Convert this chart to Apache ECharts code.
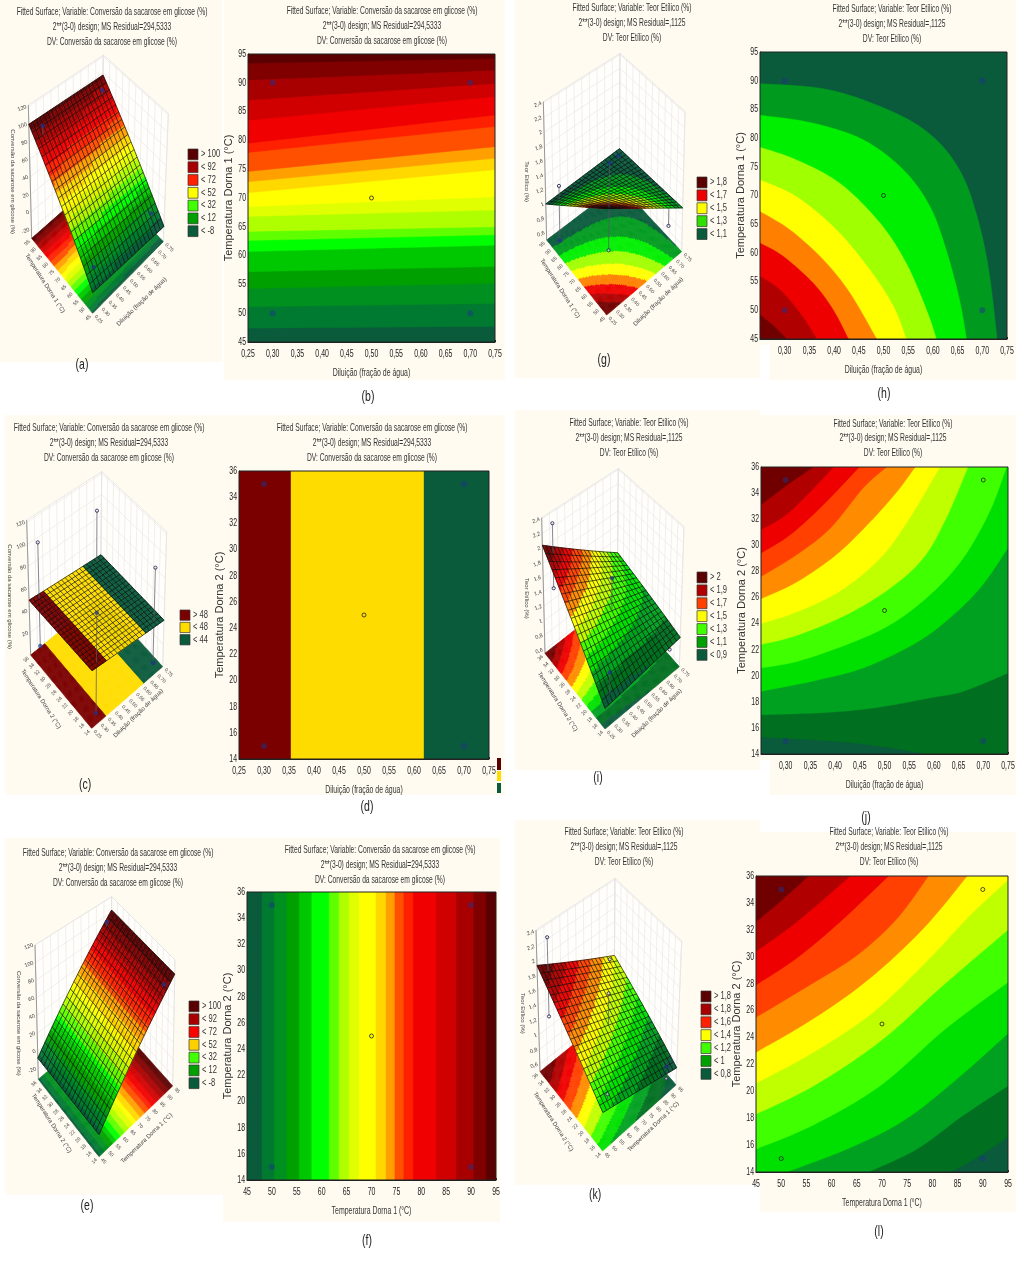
<!DOCTYPE html>
<html><head><meta charset="utf-8">
<style>html,body{margin:0;padding:0;background:#fff}#c{width:1024px;height:1274px}</style>
<script src="https://cdn.jsdelivr.net/npm/echarts@6/dist/echarts.min.js"></script>
</head><body><div id="c"></div>
<script>
/* ---------- text ---------- */
const titleConv = ['Fitted Surface; Variable: Conversão da sacarose em glicose (%)','2**(3-0) design; MS Residual=294,5333','DV: Conversão da sacarose em glicose (%)'];
const titleTeor = ['Fitted Surface; Variable: Teor Etílico (%)','2**(3-0) design; MS Residual=,1125','DV: Teor Etílico (%)'];
const nameDil = 'Diluição (fração de água)';
const nameT1 = 'Temperatura Dorna 1 (°C)';
const nameT2 = 'Temperatura Dorna 2 (°C)';
const nameConv = 'Conversão da sacarose em glicose (%)';
const nameTeor = 'Teor Etílico (%)';

/* ---------- colours / levels ---------- */
const convColors = ['#0a5a3c','#007a30','#009020','#00a000','#00c800','#00ff00','#60ff00','#b0ff00','#e0ff00','#ffff00','#ffd800','#ffa000','#ff5000','#ff2000','#f00000','#d00000','#a80000','#800000','#5a0000'];
const convLevels = [-6,0,6,12,18,24,30,36,42,48,54,60,66,72,78,84,90,96];
const flatColors = ['#0a5a3c','#ffdc00','#7a0000'];
const flatLevels = [44,48];
const dColors = ['#7a0000','#ffdc00','#0a5a3c'];
const teorHColors = ['#0a5a3c','#009a1f','#00ee00','#a0ff00','#ffff00','#ff8000','#ee0000','#b00000','#700000'];
const teorHLevels = [1.1,1.2,1.3,1.4,1.5,1.6,1.7,1.8];
const teorJColors = ['#0a5a3c','#006f20','#00a020','#00e000','#40ff00','#c0ff00','#ffff00','#ff8c00','#ff4000','#ee0000','#b00000','#700000'];
const teorJLevels = [.9,1,1.1,1.2,1.3,1.4,1.5,1.6,1.7,1.8,1.9];
const teorLLevels = [.8,.9,1,1.1,1.2,1.3,1.4,1.5,1.6,1.7,1.8];

/* ---------- contour boundaries, data units ---------- */
const bLines = [[[.25,47.4],[.75,47.7]],[[.25,51.1],[.75,51.7]],[[.25,54.3],[.75,55.2]],[[.25,57.2],[.75,58.1]],[[.25,60.7],[.75,61.8]],[[.25,62.6],[.75,63.6]],[[.25,64.2],[.75,65]],[[.25,66.8],[.75,67.9]],[[.25,68.5],[.75,70.2]],[[.25,70.9],[.75,74.9]],[[.25,72.8],[.75,76.9]],[[.25,74.6],[.75,78.9]],[[.25,77.9],[.75,82.4]],[[.25,79.5],[.75,84.4]],[[.25,83.5],[.75,87.6]],[[.25,87],[.75,89.9]],[[.25,90.5],[.75,92.2]],[[.25,93.4],[.75,94.2]]];
const dLines = [[[.354,14],[.354,36]],[[.62,14],[.62,36]]];
const fEdges = [48,50.5,53,55.5,58,61.5,63.5,65.5,67.5,70.9,72.9,74.7,76.5,78.4,83,87,90.5,93];
const hLines = [
 [[.25,89.5],[.3915,88.4],[.526,84.3],[.607,79.7],[.661,73.3],[.695,64.6],[.715,55.9],[.73,45]],
 [[.25,84],[.358,82.6],[.459,79.7],[.54,74.5],[.594,68.1],[.627,60.5],[.654,51.8],[.668,45]],
 [[.25,78.4],[.324,76.2],[.412,72.1],[.493,65.2],[.546,58.2],[.587,50.1],[.607,45]],
 [[.25,72.7],[.324,69.8],[.405,64],[.472,57.1],[.52,50.7],[.546,45]],
 [[.25,67.2],[.311,64],[.378,58.8],[.432,53],[.486,45]],
 [[.25,61.7],[.297,59.4],[.358,54.7],[.398,50.1],[.429,45]],
 [[.25,55.9],[.29,53.6],[.331,49.5],[.365,45]],
 [[.25,49.2],[.277,47.3],[.304,45]]];
const jLines = [
 [[.25,15.3],[.39,15],[.491,14.6],[.585,14]],
 [[.25,17],[.39,17.2],[.491,17.6],[.592,18.3],[.659,18.8],[.75,20.2]],
 [[.25,18.8],[.356,19.6],[.457,20.6],[.558,22.4],[.625,24.2],[.693,26.7],[.75,29.8]],
 [[.25,20.6],[.323,21.1],[.424,22.4],[.511,23.9],[.592,26.2],[.659,29],[.713,32.6],[.747,36]],
 [[.25,22.4],[.323,23.1],[.424,24.7],[.511,26.7],[.578,29],[.625,32.1],[.669,36]],
 [[.25,24],[.323,24.9],[.41,26.5],[.491,29],[.551,32.1],[.612,36]],
 [[.25,25.9],[.323,27.2],[.403,29.3],[.471,31.8],[.525,34.1],[.562,36]],
 [[.25,27.6],[.323,29.3],[.39,31.3],[.457,34.4],[.504,36]],
 [[.25,29.4],[.309,30.8],[.376,33.1],[.449,36]],
 [[.25,31.2],[.309,32.6],[.397,36]],
 [[.25,33.1],[.302,34.6],[.356,36]]];
const lLines = [
 [[83.8,14],[89.4,15.2],[95,16.6]],
 [[67.3,14],[76.9,15.7],[86.1,18.2],[95,20.4]],
 [[51.1,14],[63,15.7],[74.2,17.8],[84.8,20.9],[95,24.3]],
 [[45,15.7],[56.4,17.5],[69.6,20.4],[82.8,24.7],[95,28.1]],
 [[45,18.3],[56.4,20.4],[69.6,23.7],[82.2,27.9],[95,32]],
 [[45,20.6],[56.4,22.9],[68.3,25.9],[79.5,29.9],[87.5,33.1],[95,35.7]],
 [[45,22.9],[56.4,25.4],[67.6,28.4],[78.2,32.1],[86.9,36]],
 [[45,25.5],[55.7,27.9],[65,30.1],[72.9,32.8],[79.2,36]],
 [[45,27.9],[53.1,29.9],[61.7,32.6],[71.3,36]],
 [[45,30.4],[53.1,32.6],[63.7,36]],
 [[45,32.6],[50.4,34.3],[55.4,36]]];

/* design points of the contour panels */
const dilCorners = [[.3,90],[.7,90],[.3,50],[.7,50]];
const dil2Corners = [[.3,35],[.7,35],[.3,15],[.7,15]];
const tempCorners = [[50,35],[90,35],[50,15],[90,15]];

/* fitted surfaces: z at [xmin,ymin],[xmin,ymax],[xmax,ymin],[xmax,ymax] */
const surfA = [[-8,100],[-12,97]];
const surfC = [[49.56,49.56],[42,42]];
const surfE = [[-8,-8],[103,103]];
const surfG = [[1.96,1],[1.1,1.03]];
const surfI = [[.83,2.04],[.94,1.19]];
const surfK = [[1.03,1.94],[.73,1.31]];

/* observed points: x, y, z, kind (b = blob, o = open circle) */
const ptsA = [[.3,90,100,'b'],[.7,90,92,'b'],[.3,50,4,'b'],[.7,50,4,'b']];
const ptsC = [[.3,35,100,'o'],[.3,35,6,'b'],[.7,35,92,'o'],[.7,35,5,'b'],[.7,15,92,'o'],[.7,15,6,'b'],[.3,15,92,'b'],[.3,15,5,'b']];
const ptsE = [[50,35,2,'b'],[90,35,98,'b'],[90,15,94,'b'],[50,15,2,'b']];
const ptsG = [[.3,90,1.28,'o'],[.3,90,.52,'b'],[.7,90,1.1,'b'],[.7,50,1.13,'b'],[.7,50,.85,'o'],[.3,50,2.4,'b'],[.3,50,1.2,'o']];
const ptsI = [[.3,35,2.32,'o'],[.3,35,1.42,'o'],[.5,25,1.7,'b'],[.7,35,1.1,'b'],[.3,15,1.19,'b'],[.3,15,.8,'b'],[.7,15,.82,'o']];
const ptsK = [[50,35,2.3,'o'],[50,35,1.22,'o'],[90,35,1.38,'o'],[70,25,1.69,'o'],[50,15,1.14,'o'],[90,15,.79,'b'],[90,15,.63,'o']];

/* legends */
const legConvText = ['> 100','< 92','< 72','< 52','< 32','< 12','< -8'];
const legConvCol = ['#5a0000','#a80000','#ff2000','#ffff00','#40ff00','#00a000','#0a5a3c'];
const legConvColE = ['#5a0000','#a80000','#ff0000','#ffd000','#40ff00','#00a000','#0a5a3c'];
const legFlatText = ['> 48','< 48','< 44'];
const legFlatCol = ['#7a0000','#ffdc00','#0a5a3c'];
const legGText = ['> 1,8','< 1,7','< 1,5','< 1,3','< 1,1'];
const legGCol = ['#5a0000','#ee0000','#ffff00','#30e000','#0a5a3c'];
const legIText = ['> 2','< 1,9','< 1,7','< 1,5','< 1,3','< 1,1','< 0,9'];
const legICol = ['#5a0000','#b00000','#ff4000','#ffff00','#40ff00','#00a000','#0a5a3c'];
const legKText = ['> 1,8','< 1,8','< 1,6','< 1,4','< 1,2','< 1','< 0,8'];
const legKCol = ['#5a0000','#a80000','#ff2000','#ffff00','#40ff00','#00a000','#0a5a3c'];

/* tick lists */
const ticksDil = [.25,.3,.35,.4,.45,.5,.55,.6,.65,.7,.75];
const ticksT1 = [45,50,55,60,65,70,75,80,85,90,95];
const ticksT2 = [14,16,18,20,22,24,26,28,30,32,34,36];
const ticksZConv = [-20,0,20,40,60,80,100,120];
const ticksZFlat = [20,40,60,80,100,120];
const ticksZTeor = [.6,.8,1,1.2,1.4,1.6,1.8,2,2.2,2.4];

/* ---------- layout ---------- */
const SANS = '"Liberation Sans",Arial,sans-serif';
const CREAM = '#fffbf1';
const creamRects = [[0,0,222,362],[224,0,281,380],[515,0,245,378],[730,0,286,345],[770,345,246,35],[5,415,215,380],[220,415,285,380],[515,410,245,360],[760,415,256,345],[770,760,246,35],[5,838,220,357],[223,838,277,384],[515,820,245,365],[760,832,256,380]];

const contour = [
 {l:248,r:495,t:54,b:342,xl:[.25,.75],yl:[45,95],xi:.05,yi:5,xt:ticksDil,yt:ticksT1,xn:nameDil,yn:nameT1,colors:convColors,lines:bLines,close:[[.75,95],[.25,95]],blobs:dilCorners,rings:[[.5,70]]},
 {l:239,r:489,t:471,b:759,xl:[.25,.75],yl:[14,36],xi:.05,yi:2,xt:ticksDil,yt:ticksT2,xn:nameDil,yn:nameT2,colors:dColors,lines:dLines,close:[[.75,36],[.75,14]],blobs:dil2Corners,rings:[[.5,25]]},
 {l:247,r:496,t:892,b:1180,xl:[45,95],yl:[14,36],xi:5,yi:2,xt:ticksT1,yt:ticksT2,xn:nameT1,yn:nameT2,colors:convColors,lines:fEdges.map(e=>[[e,14],[e,36]]),close:[[95,36],[95,14]],blobs:tempCorners,rings:[[70,25]]},
 {l:760,r:1007,t:52,b:339,xl:[.25,.75],yl:[45,95],xi:.05,yi:5,xt:ticksDil,yt:ticksT1,xn:nameDil,yn:nameT1,colors:teorHColors,lines:hLines,close:[[.25,45]],blobs:dilCorners,rings:[[.5,70]],hideMin:true},
 {l:761,r:1008,t:467,b:754,xl:[.25,.75],yl:[14,36],xi:.05,yi:2,xt:ticksDil,yt:ticksT2,xn:nameDil,yn:nameT2,colors:teorJColors,lines:jLines,upperLeft:true,blobs:[[.3,35],[.3,15],[.7,15]],rings:[[.7,35],[.5,25]],hideMin:true},
 {l:756,r:1008,t:876,b:1172,xl:[45,95],yl:[14,36],xi:5,yi:2,xt:ticksT1,yt:ticksT2,xn:nameT1,yn:nameT2,colors:teorJColors,lines:lLines,upperLeft:true,blobs:[[50,35],[90,15]],rings:[[90,35],[70,25],[50,15]]}
];

/* 3D boxes: corner positions are given in 3x-crop pixels relative to origin o */
const box3d = [
 {o:[0,0],F:[278,940],L:[95,715],R:[490,725],B:[305,530],Ft:[280,510],Lt:[85,315],Rt:[505,340],Bt:[310,165],xl:[.25,.75],yl:[45,95],zl:[-30,122],z:surfA,levels:convLevels,colors:convColors,pts:ptsA,xt:ticksDil,yt:ticksT1,zt:ticksZConv,xn:nameDil,yn:nameT1,zn:nameConv,xc:[425,905],yc:[135,850],zc:[38,545]},
 {o:[0,410],F:[275,955],L:[92,735],R:[488,770],B:[302,565],Ft:[278,530],Lt:[80,330],Rt:[500,365],Bt:[305,185],xl:[.25,.75],yl:[14,36],zl:[0,122],z:surfC,levels:flatLevels,colors:flatColors,pts:ptsC,xt:ticksDil,yt:ticksT2,zt:ticksZFlat,xn:nameDil,yn:nameT2,zn:nameConv,xc:[415,910],yc:[123,867],zc:[30,560]},
 {o:[0,830],F:[297,980],L:[115,748],R:[518,768],B:[333,560],Ft:[297,560],Lt:[105,345],Rt:[525,390],Bt:[335,200],xl:[45,95],yl:[14,36],zl:[-32,120],z:surfE,levels:convLevels,colors:convColors,pts:ptsE,xt:ticksT1,yt:ticksT2,zt:ticksZConv,xn:nameT1,yn:nameT2,zn:nameConv,xc:[440,925],yc:[155,880],zc:[55,580]},
 {o:[510,0],F:[290,945],L:[110,720],R:[515,755],B:[328,555],Ft:[295,525],Lt:[100,305],Rt:[525,335],Bt:[330,160],xl:[.25,.75],yl:[45,95],zl:[.5,2.42],z:surfG,levels:teorHLevels,colors:teorHColors,pts:ptsG,xt:ticksDil,yt:ticksT1,zt:ticksZTeor,xn:nameDil,yn:nameT1,zn:nameTeor,xc:[445,905],yc:[150,865],zc:[50,545]},
 {o:[510,405],F:[285,972],L:[105,745],R:[508,785],B:[322,575],Ft:[285,560],Lt:[95,338],Rt:[522,365],Bt:[325,190],xl:[.25,.75],yl:[14,36],zl:[.55,2.42],z:surfI,levels:teorJLevels,colors:teorJColors,pts:ptsI,xt:ticksDil,yt:ticksT2,zt:ticksZTeor,xn:nameDil,yn:nameT2,zn:nameTeor,xc:[440,925],yc:[143,890],zc:[50,580]},
 {o:[510,815],F:[278,1008],L:[90,770],R:[498,810],B:[312,590],Ft:[280,590],Lt:[78,345],Rt:[515,378],Bt:[315,190],xl:[45,95],yl:[14,36],zl:[.5,2.42],z:surfK,levels:teorLLevels,colors:teorJColors,pts:ptsK,xt:ticksT1,yt:ticksT2,zt:ticksZTeor,xn:nameT1,yn:nameT2,zn:nameTeor,xc:[430,935],yc:[130,920],zc:[37,595]}
];

const titles = [
 [titleConv,112,[12,27,42]],[titleConv,382,[11,26,41]],[titleTeor,632,[8,23,38]],[titleTeor,892,[9,24,39]],
 [titleConv,109,[428,443,458]],[titleConv,372,[428,443,458]],[titleTeor,629,[423,438,453]],[titleTeor,893,[424,438,453]],
 [titleConv,118,[853,868,883]],[titleConv,380,[850,865,880]],[titleTeor,624,[832,847,862]],[titleTeor,889,[832,847,862]]];
const captions = [['(a)',82,365],['(b)',368,397],['(c)',85,785],['(d)',367,807],['(e)',87,1206],['(f)',367,1241],['(g)',604,360],['(h)',884,394],['(i)',598,778],['(j)',866,818],['(k)',595,1195],['(l)',879,1232]];
const legends = [
 [legConvText,legConvCol,188,149,12.8],[legFlatText,legFlatCol,180,610,12.3],[legConvText,legConvColE,189,1001,12.8],
 [legGText,legGCol,697,177,12.9],[legIText,legICol,697,572,12.9],[legKText,legKCol,701,991,12.9]];
const legendStub = [['#5a0000',758,12],['#ffdc00',771,10],['#0a5a3c',783,10]];

/* ---------- helpers ---------- */
function levelColor(levels, colors, z){ let i=0; while(i<levels.length && z>=levels[i]) i++; return colors[i]; }
function lerp2(a,b,t){ return [a[0]+(b[0]-a[0])*t, a[1]+(b[1]-a[1])*t]; }
function project(b,u,v,w){
  const bl=(A,B,C,D)=>lerp2(lerp2(A,B,u),lerp2(C,D,u),v);
  const p=lerp2(bl(b.F,b.R,b.L,b.B),bl(b.Ft,b.Rt,b.Lt,b.Bt),w);
  return [b.o[0]+p[0]/3, b.o[1]+p[1]/3];
}
function surfZ(b,u,v){ const z=b.z; return (1-u)*(1-v)*z[0][0]+(1-u)*v*z[0][1]+u*(1-v)*z[1][0]+u*v*z[1][1]; }
function comma(v,d){ return (d==null?String(v):v.toFixed(d)).replace('.',','); }
function spline(p){
  if(p.length<3) return p;
  const out=[];
  for(let i=0;i<p.length-1;i++){
    const a=p[Math.max(i-1,0)],b=p[i],c=p[i+1],d=p[Math.min(i+2,p.length-1)];
    for(let k=0;k<8;k++){const t=k/8,t2=t*t,t3=t2*t;
      out.push([.5*(2*b[0]+(c[0]-a[0])*t+(2*a[0]-5*b[0]+4*c[0]-d[0])*t2+(3*b[0]-a[0]-3*c[0]+d[0])*t3),
                .5*(2*b[1]+(c[1]-a[1])*t+(2*a[1]-5*b[1]+4*c[1]-d[1])*t2+(3*b[1]-a[1]-3*c[1]+d[1])*t3)]);}
  }
  out.push(p[p.length-1]); return out;
}

function render3d(b){
  return function(params,api){
    const ch=[];
    const W=(u,v,w)=>api.coord(project(b,u,v,w));
    const ux=x=>(x-b.xl[0])/(b.xl[1]-b.xl[0]), vy=y=>(y-b.yl[0])/(b.yl[1]-b.yl[0]), wz=z=>(z-b.zl[0])/(b.zl[1]-b.zl[0]);
    const line=(pts,stroke,lw)=>ch.push({type:'polyline',shape:{points:pts},style:{stroke,lineWidth:lw,fill:null}});
    /* walls */
    ch.push({type:'polygon',shape:{points:[W(0,1,0),W(1,1,0),W(1,1,1),W(0,1,1)]},style:{fill:'#fffefb',stroke:'#d8d8d8',lineWidth:.6}});
    ch.push({type:'polygon',shape:{points:[W(1,0,0),W(1,1,0),W(1,1,1),W(1,0,1)]},style:{fill:'#fffefb',stroke:'#d8d8d8',lineWidth:.6}});
    b.xt.forEach(x=>line([W(ux(x),1,0),W(ux(x),1,1)],'#e4e4e4',.6));
    b.yt.forEach(y=>line([W(1,vy(y),0),W(1,vy(y),1)],'#e4e4e4',.6));
    b.zt.forEach(z=>{line([W(0,1,wz(z)),W(1,1,wz(z))],'#e4e4e4',.6);line([W(1,0,wz(z)),W(1,1,wz(z))],'#e4e4e4',.6);});
    line([W(0,1,0),W(0,1,1)],'#777',.7);
    /* floor */
    const nF=70;
    for(let i=nF-1;i>=0;i--)for(let j=nF-1;j>=0;j--){
      const u0=i/nF,u1=(i+1)/nF,v0=j/nF,v1=(j+1)/nF;
      const c=levelColor(b.levels,b.colors,surfZ(b,(u0+u1)/2,(v0+v1)/2));
      ch.push({type:'polygon',shape:{points:[W(u0,v0,0),W(u1,v0,0),W(u1,v1,0),W(u0,v1,0)]},style:{fill:c,stroke:c,lineWidth:.5}});
    }
    /* parts of the point stems and points below the surface */
    const marker=(p,k)=>{ ch.push({type:'circle',shape:{cx:p[0],cy:p[1],r:k==='b'?2.2:1.6},style:k==='b'?{fill:'rgba(30,50,140,.7)'}:{fill:'rgba(255,255,255,.5)',stroke:'#2a2a55',lineWidth:.9}}); };
    const under=b.pts.filter(q=>q[2]<surfZ(b,ux(q[0]),vy(q[1])));
    const over=b.pts.filter(q=>q[2]>=surfZ(b,ux(q[0]),vy(q[1])));
    under.forEach(q=>{const u=ux(q[0]),v=vy(q[1]);line([W(u,v,wz(q[2])),W(u,v,wz(surfZ(b,u,v)))],'#556',.7);marker(W(u,v,wz(q[2])),q[3]);});
    /* surface */
    const nS=50;
    const P=(u,v)=>W(u,v,wz(surfZ(b,u,v)));
    for(let i=nS-1;i>=0;i--)for(let j=nS-1;j>=0;j--){
      const u0=i/nS,u1=(i+1)/nS,v0=j/nS,v1=(j+1)/nS;
      const c=levelColor(b.levels,b.colors,surfZ(b,(u0+u1)/2,(v0+v1)/2));
      ch.push({type:'polygon',shape:{points:[P(u0,v0),P(u1,v0),P(u1,v1),P(u0,v1)]},style:{fill:c,stroke:c,lineWidth:.5}});
    }
    const nM=20;
    for(let i=0;i<=nM;i++){
      const a=[],c=[];
      for(let k=0;k<=6;k++){a.push(P(i/nM,k/6));c.push(P(k/6,i/nM));}
      line(a,'rgba(15,15,15,.85)',.8);line(c,'rgba(15,15,15,.85)',.8);
    }
    over.forEach(q=>{const u=ux(q[0]),v=vy(q[1]);line([W(u,v,wz(q[2])),W(u,v,wz(surfZ(b,u,v)))],'#556',.7);marker(W(u,v,wz(q[2])),q[3]);});
    /* labels */
    const txt=(p,s,size,rot,align)=>ch.push({type:'text',x:p[0],y:p[1],rotation:rot,style:{text:s,fill:'#444',font:size+'px '+SANS,textAlign:align,textVerticalAlign:'middle',verticalAlign:'middle'}});
    b.xt.forEach(x=>{const p=W(ux(x),0,0);txt([p[0]+2.5,p[1]+2.5],b.xl[0]<1?comma(x,2):String(x),5,-.8,'left');});
    b.yt.forEach(y=>{const p=W(0,vy(y),0);txt([p[0]-2.5,p[1]+2.5],String(y),5,.8,'right');});
    b.zt.forEach(z=>{const p=W(0,1,wz(z));txt([p[0]-2,p[1]],comma(z),5.5,.35,'right');});
    const pg=c=>api.coord([b.o[0]+c[0]/3,b.o[1]+c[1]/3]);
    txt(pg(b.xc),b.xn,6,.77,'center');
    txt(pg(b.yc),b.yn,6,-1,'center');
    txt(pg(b.zc),b.zn,6,-Math.PI/2,'center');
    return {type:'group',children:ch};
  };
}

function closeUpperLeft(c,start,end){
  const x0=c.xl[0],x1=c.xl[1],y0=c.yl[0],y1=c.yl[1];
  let pts;
  if(end[1]<=y0) pts=[[x1,y0],[x1,y1],[x0,y1]];
  else if(end[0]>=x1 && end[1]<y1) pts=[[x1,y1],[x0,y1]];
  else pts=[[x0,y1]];
  if(start[1]<=y0 && start[0]>x0) pts.push([x0,y0]);
  return pts;
}
function renderBand(cfg,colorIdx){
  return function(params,api){
    const c=cfg;
    if(colorIdx===0){
      const pts=[[c.xl[0],c.yl[0]],[c.xl[1],c.yl[0]],[c.xl[1],c.yl[1]],[c.xl[0],c.yl[1]]].map(p=>api.coord(p));
      return {type:'polygon',shape:{points:pts},style:{fill:c.colors[0]}};
    }
    const src=c.lines[colorIdx-1];
    const line=spline(src.map(p=>api.coord(p)));
    const close=c.upperLeft?closeUpperLeft(c,src[0],src[src.length-1]):c.close;
    const pts=line.concat(close.map(p=>api.coord(p)));
    return {type:'polygon',shape:{points:pts},style:{fill:c.colors[colorIdx],stroke:c.colors[colorIdx],lineWidth:.4}};
  };
}
function renderAxisText(c){
  const isDil=c.xl[0]<1;
  return function(params,api){
    const ch=[];
    const t=(x,y,s,size,sx,align,rot,fill)=>ch.push({type:'text',x,y,rotation:rot||0,scaleX:sx,style:{text:s,fill:fill||'#222',font:size+'px '+SANS,textAlign:align,textVerticalAlign:'middle',verticalAlign:'middle'}});
    c.xt.forEach((v,i)=>{ if(i===0&&c.hideMin) return; const p=api.coord([v,c.yl[0]]); t(p[0],p[1]+12,isDil?comma(v,2):String(v),10.5,.66,'center'); });
    c.yt.forEach(v=>{ const p=api.coord([c.xl[0],v]); t(p[0]-2,p[1],String(v),10.5,.66,'right'); });
    const xm=api.coord([(c.xl[0]+c.xl[1])/2,c.yl[0]]);
    t(xm[0],xm[1]+31,c.xn,10.5,.66,'center',0,'#333');
    const ym=api.coord([c.xl[0],(c.yl[0]+c.yl[1])/2]);
    t(ym[0]-19,ym[1],c.yn,11,1,'center',Math.PI/2,'#333');
    return {type:'group',children:ch};
  };
}

/* ---------- option ---------- */
const grid=[],xAxis=[],yAxis=[],series=[];
contour.forEach((c,i)=>{
  grid.push({left:c.l,top:c.t,width:c.r-c.l,height:c.b-c.t,show:true,z:5,backgroundColor:'transparent',borderColor:'#222',borderWidth:1});
  xAxis.push({type:'value',gridIndex:i,min:c.xl[0],max:c.xl[1],interval:c.xi,
    splitLine:{show:false},axisLine:{show:true,lineStyle:{color:'#222',width:1}},axisTick:{show:true,inside:true,length:2,lineStyle:{color:'#222'}},axisLabel:{show:false}});
  yAxis.push({type:'value',gridIndex:i,min:c.yl[0],max:c.yl[1],interval:c.yi,
    splitLine:{show:false},axisLine:{show:true,lineStyle:{color:'#222',width:1}},axisTick:{show:true,inside:true,length:2,lineStyle:{color:'#222'}},axisLabel:{show:false}});
  c.colors.forEach((col,k)=>{
    series.push({type:'custom',coordinateSystem:'cartesian2d',xAxisIndex:i,yAxisIndex:i,clip:true,silent:true,z:2,animation:false,
      data:[[c.xl[0],c.yl[0]]],renderItem:renderBand(c,k)});
  });
  series.push({type:'scatter',xAxisIndex:i,yAxisIndex:i,z:3,silent:true,animation:false,symbol:'circle',symbolSize:6,data:c.blobs,itemStyle:{color:'rgba(30,50,140,.6)'}});
  series.push({type:'scatter',xAxisIndex:i,yAxisIndex:i,z:3,silent:true,animation:false,symbol:'circle',symbolSize:4,data:c.rings,itemStyle:{color:'rgba(0,0,0,0)',borderColor:'#222',borderWidth:1}});
  series.push({type:'custom',coordinateSystem:'cartesian2d',xAxisIndex:i,yAxisIndex:i,clip:false,silent:true,z:6,animation:false,
    data:[[c.xl[0],c.yl[0]]],renderItem:renderAxisText(c)});
});
const pageIdx=contour.length;
grid.push({left:0,top:0,width:1024,height:1274,show:false});
xAxis.push({type:'value',gridIndex:pageIdx,min:0,max:1024,show:false,splitLine:{show:false}});
yAxis.push({type:'value',gridIndex:pageIdx,min:0,max:1274,inverse:true,show:false,splitLine:{show:false}});
box3d.forEach(b=>{
  series.push({type:'custom',coordinateSystem:'cartesian2d',xAxisIndex:pageIdx,yAxisIndex:pageIdx,silent:true,z:2,animation:false,clip:false,data:[[0,0]],renderItem:render3d(b)});
});

const gfx=[];
creamRects.forEach(r=>gfx.push({type:'rect',z:-10,silent:true,shape:{x:r[0],y:r[1],width:r[2],height:r[3]},style:{fill:CREAM}}));
const label=(s,x,y,size,sx,align,fill)=>({type:'text',z:50,silent:true,x,y,scaleX:sx,style:{text:s,fill:fill||'#333',font:size+'px '+SANS,textAlign:align,textVerticalAlign:'middle',verticalAlign:'middle'}});
titles.forEach(t=>t[0].forEach((s,i)=>gfx.push(label(s,t[1],t[2][i],10.5,.64,'center'))));
captions.forEach(c=>gfx.push(label(c[0],c[1],c[2],15,.7,'center','#222')));
legends.forEach(L=>{
  L[0].forEach((s,i)=>{
    gfx.push({type:'rect',z:50,silent:true,shape:{x:L[2],y:L[3]+i*L[4],width:10,height:L[4]-2},style:{fill:L[1][i],stroke:'#333',lineWidth:.7}});
    gfx.push(label(s,L[2]+13,L[3]+i*L[4]+(L[4]-2)/2,10.5,.72,'left'));
  });
});
legendStub.forEach(s=>gfx.push({type:'rect',z:50,silent:true,shape:{x:497,y:s[1],width:4,height:s[2]},style:{fill:s[0]}}));

const chart=echarts.init(document.getElementById('c'),null,{renderer:'canvas',width:1024,height:1274});
chart.setOption({animation:false,backgroundColor:'#ffffff',tooltip:{show:false},grid,xAxis,yAxis,series,graphic:{elements:gfx}});
</script></body></html>
